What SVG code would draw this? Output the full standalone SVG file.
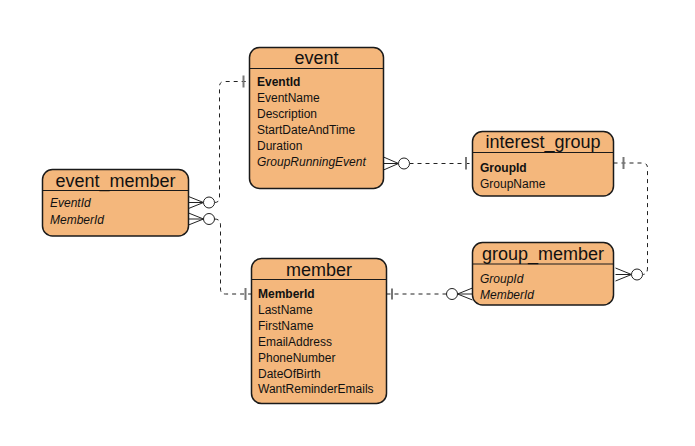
<svg xmlns="http://www.w3.org/2000/svg" width="695" height="446" viewBox="0 0 695 446">
<style>
.box{fill:#f4b77c;stroke:#1a1a1a;stroke-width:1.5}
.hl{stroke:#1a1a1a;stroke-width:1.2}
.title{font-family:"Liberation Sans",Arial,sans-serif;font-size:18px;fill:#111;text-anchor:middle}
.attr{font-family:"Liberation Sans",Arial,sans-serif;font-size:12px;fill:#111}
.pk{font-weight:bold}
.fk{font-style:italic}
.dash{fill:none;stroke:#222;stroke-width:1;stroke-dasharray:4 4}
.crow{fill:none;stroke:#222;stroke-width:1}
.circ{fill:#fff;stroke:#222;stroke-width:1}
.bar{stroke:#777;stroke-width:2}
</style>
<rect width="695" height="446" fill="#fff"/>
<g id="connectors">
  <!-- event_member EventId -> event EventId -->
  <path class="dash" d="M214.5 202.5 Q219.5 202.5 219.5 197.5 L219.5 86.5 Q219.5 81.5 224.5 81.5 L249.5 81.5"/>
  <path class="crow" d="M188.5 196.5 L203.5 202.5 L188.5 208.5 M188.5 202.5 L203.5 202.5"/>
  <circle class="circ" cx="209" cy="202.5" r="5.5"/>
  <line class="bar" x1="243.5" y1="75.5" x2="243.5" y2="87.5"/>
  <!-- event_member MemberId -> member MemberId -->
  <path class="dash" d="M214.5 219 Q220.5 219 220.5 225 L220.5 289 Q220.5 294 225.5 294 L251.5 294"/>
  <path class="crow" d="M188.5 213 L203.5 219 L188.5 225 M188.5 219 L203.5 219"/>
  <circle class="circ" cx="209" cy="219" r="5.5"/>
  <line class="bar" x1="245.5" y1="288" x2="245.5" y2="300"/>
  <!-- event GroupRunningEvent -> interest_group GroupId -->
  <path class="dash" d="M409.5 163.5 L472.5 163.5"/>
  <path class="crow" d="M383.5 157 L398.5 163.5 L383.5 170 M383.5 163.5 L398.5 163.5"/>
  <circle class="circ" cx="404" cy="163.5" r="5.5"/>
  <line class="bar" x1="466" y1="157" x2="466" y2="169.5"/>
  <!-- interest_group GroupId -> group_member GroupId -->
  <path class="dash" d="M613.5 163 L642.5 163 Q647.5 163 647.5 168 L647.5 268 Q647.5 274.5 642.5 274.5"/>
  <path class="crow" d="M615.5 268 L631.5 274.5 L615.5 281 M615.5 274.5 L631.5 274.5"/>
  <circle class="circ" cx="637" cy="274.5" r="5.5"/>
  <line class="bar" x1="623.5" y1="157" x2="623.5" y2="169"/>
  <!-- member MemberId -> group_member MemberId -->
  <path class="dash" d="M386.5 294 L446.5 294"/>
  <path class="crow" d="M472.5 288 L457.5 294 L472.5 300 M472.5 294 L457.5 294"/>
  <circle class="circ" cx="452" cy="294" r="5.5"/>
  <line class="bar" x1="392" y1="288.5" x2="392" y2="299.5"/>
</g>
<g id="event">
  <rect class="box" x="249.5" y="47.5" width="134" height="141" rx="10"/>
  <line class="hl" x1="249.5" y1="68.5" x2="383.5" y2="68.5"/>
  <text class="title" x="316.5" y="64">event</text>
  <text class="attr pk" x="257" y="86">EventId</text>
  <text class="attr" x="257" y="102">EventName</text>
  <text class="attr" x="257" y="118">Description</text>
  <text class="attr" x="257" y="134">StartDateAndTime</text>
  <text class="attr" x="257" y="150">Duration</text>
  <text class="attr fk" x="257" y="166">GroupRunningEvent</text>
</g>
<g id="event_member">
  <rect class="box" x="42.5" y="169.5" width="146" height="66.5" rx="10"/>
  <line class="hl" x1="42.5" y1="190.5" x2="188.5" y2="190.5"/>
  <text class="title" x="115.5" y="186.5">event_member</text>
  <text class="attr fk" x="50" y="207">EventId</text>
  <text class="attr fk" x="50" y="223.5">MemberId</text>
</g>
<g id="member">
  <rect class="box" x="251.5" y="258.5" width="135" height="145" rx="10"/>
  <line class="hl" x1="251.5" y1="279.5" x2="386.5" y2="279.5"/>
  <text class="title" x="319" y="275.5">member</text>
  <text class="attr pk" x="258" y="297.5">MemberId</text>
  <text class="attr" x="258" y="313.5">LastName</text>
  <text class="attr" x="258" y="329.5">FirstName</text>
  <text class="attr" x="258" y="345.5">EmailAddress</text>
  <text class="attr" x="258" y="361.5">PhoneNumber</text>
  <text class="attr" x="258" y="377.5">DateOfBirth</text>
  <text class="attr" x="258" y="393">WantReminderEmails</text>
</g>
<g id="interest_group">
  <rect class="box" x="472.5" y="131.5" width="141" height="64.5" rx="10"/>
  <line class="hl" x1="472.5" y1="152.5" x2="613.5" y2="152.5"/>
  <text class="title" x="543" y="148">interest_group</text>
  <text class="attr pk" x="480" y="172">GroupId</text>
  <text class="attr" x="480" y="188">GroupName</text>
</g>
<g id="group_member">
  <rect class="box" x="472.5" y="242.5" width="141" height="62.5" rx="10"/>
  <line class="hl" x1="472.5" y1="264" x2="613.5" y2="264"/>
  <text class="title" x="543" y="259.5">group_member</text>
  <text class="attr fk" x="480" y="282.5">GroupId</text>
  <text class="attr fk" x="480" y="298.5">MemberId</text>
</g>
</svg>
